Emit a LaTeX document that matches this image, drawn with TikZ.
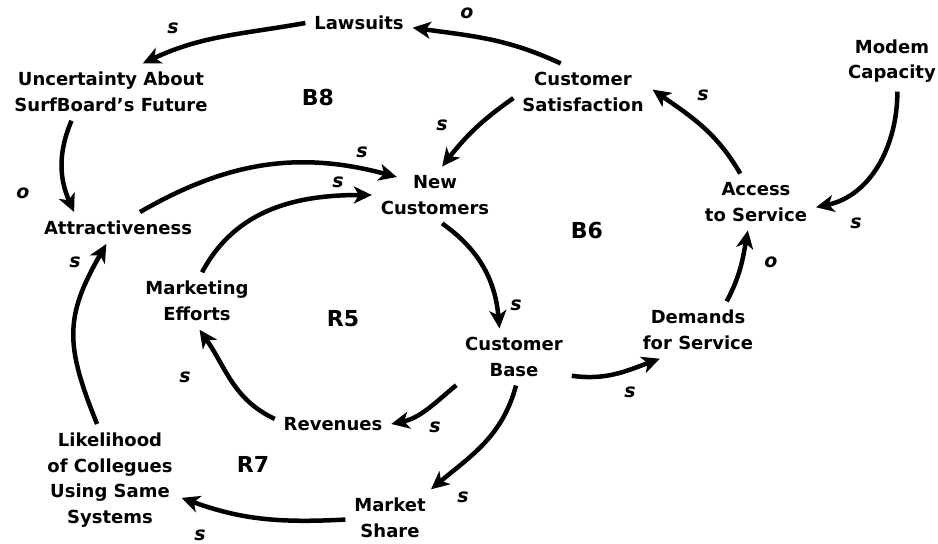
\documentclass[tikz,border=0pt]{standalone}
\usepackage{fontspec}
\setmainfont{DejaVu Sans}
\usetikzlibrary{arrows.meta}

\begin{document}
\begin{tikzpicture}[x=1pt,y=1pt,
  var/.style={align=center, inner sep=3pt, outer sep=6pt, font=\fontsize{18}{25.5}\selectfont\bfseries},
  loopname/.style={font=\fontsize{22}{26}\selectfont\bfseries},
  pol/.style={font=\fontsize{19}{22}\selectfont\bfseries\itshape},
  link/.style={line width=4.5pt, -{Stealth[length=18pt,width=17pt,inset=5pt]}}]

\useasboundingbox (0,0) rectangle (938,-544);

% variables
\node[var] (law)   at (359,-23)  {Lawsuits};
\node[var] (unc)   at (111,-92)  {Uncertainty About\\SurfBoard's Future};
\node[var] (cs)    at (583,-92)  {Customer\\Satisfaction};
\node[var] (modem) at (892,-61)  {Modem\\Capacity};
\node[var] (nc)    at (435,-195) {New\\Customers};
\node[var] (acc)   at (756,-202) {Access\\to Service};
\node[var] (attr)  at (118,-228) {Attractiveness};
\node[var] (mkt)   at (197,-301) {Marketing\\Efforts};
\node[var] (cb)    at (514,-357) {Customer\\Base};
\node[var] (dem)   at (698,-330) {Demands\\for Service};
\node[var] (rev)   at (333,-424) {Revenues};
\node[var] (lik)   at (110,-480) {Likelihood\\of Collegues\\Using Same\\Systems};
\node[var] (ms)    at (390,-518) {Market\\Share};

% loop names
\node[loopname] (b8) at (318,-97)  {B8};
\node[loopname] (b6) at (587,-230) {B6};
\node[loopname] (r5) at (343,-319) {R5};
\node[loopname] (r7) at (253,-464) {R7};

% links
\draw[link] (cs.128) to[out=155,in=-8] (law.-5);
\draw[link] (law.west) to[out=190,in=25] (unc.42);
\draw[link] (unc.-144) to[out=-113,in=114] (attr.160);
\draw[link] (cs.185) to[out=215,in=52] (nc.76);
\draw[link] (attr.36) to[out=30,in=165] ([shift={(25,18)}]nc.west);
\draw[link] (mkt.80) to[out=62,in=180] (nc.west);
\draw[link] (nc.-76) to[out=-35,in=95] (cb.117);
\draw[link] (cb.-18) to[out=-8,in=-160] (dem.-143);
\draw[link] (dem.45) to[out=62,in=-100] (acc.-106);
\draw[link] (acc.119) to[out=120,in=-35] (cs.2);
\draw[link] (modem.-80) to[out=-90,in=12] (acc.-5);
\draw[link] (cb.-154) to[out=-140,in=12] (rev.east);
\draw[link] (rev.175) to[out=155,in=-55] (mkt.-85);
\draw[link] (cb.-86) to[out=-105,in=40] (ms.35);
\draw[link] (ms.182) to[out=183,in=-20] (lik.-14);
\draw[link] (lik.103) to[out=112,in=-120,looseness=1.2] (attr.-126);

% polarities
\node[pol] (p1)  at (467,-13)  {o};
\node[pol] (p2)  at (173,-28)  {s};
\node[pol] (p3)  at (23,-193)  {o};
\node[pol] (p4)  at (442,-125) {s};
\node[pol] (p5)  at (362,-152) {s};
\node[pol] (p6)  at (338,-182) {s};
\node[pol] (p7)  at (516,-305) {s};
\node[pol] (p8)  at (630,-392) {s};
\node[pol] (p9)  at (771,-262) {o};
\node[pol] (p10) at (703,-95)  {s};
\node[pol] (p11) at (856,-223) {s};
\node[pol] (p12) at (435,-427) {s};
\node[pol] (p13) at (185,-377) {s};
\node[pol] (p14) at (463,-497) {s};
\node[pol] (p15) at (200,-535) {s};
\node[pol] (p16) at (75,-262)  {s};

\end{tikzpicture}
\end{document}
